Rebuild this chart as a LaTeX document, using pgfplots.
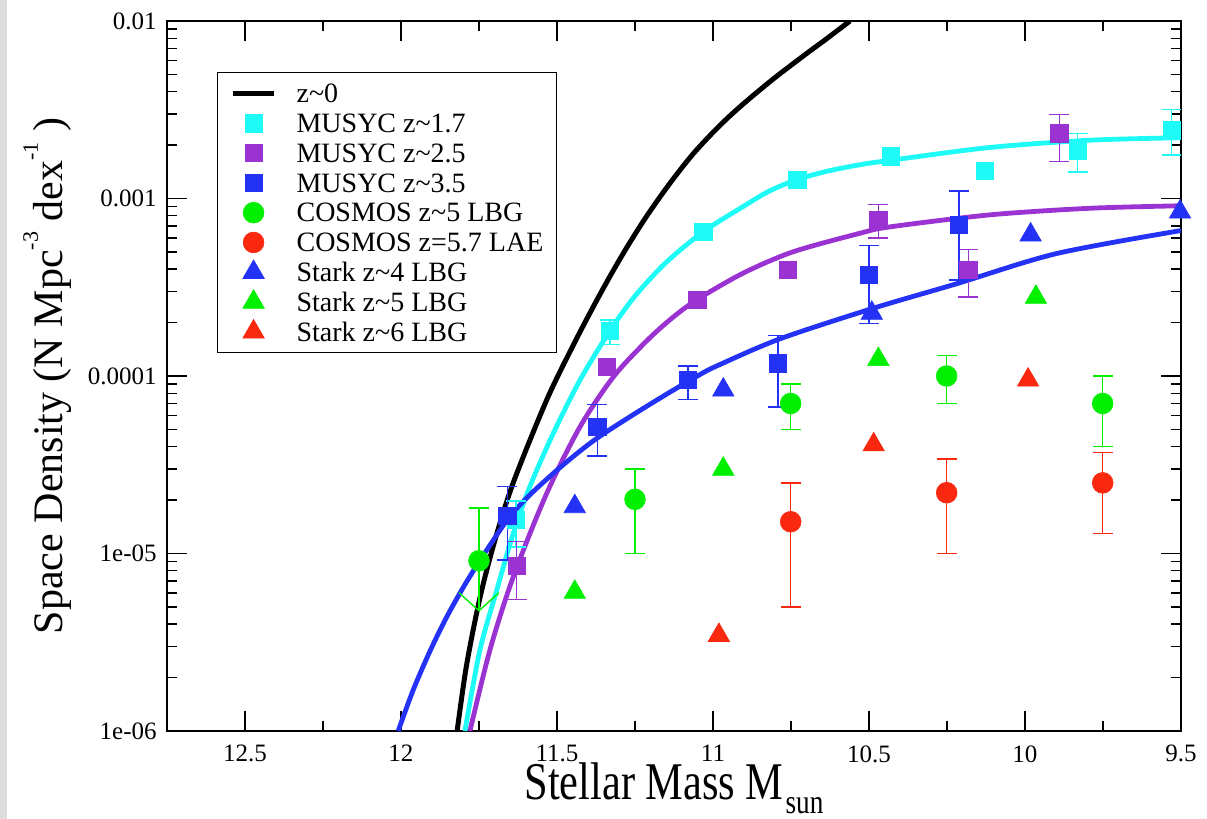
\documentclass[border=0pt]{standalone}
\usepackage{fontspec}
\setmainfont{Liberation Serif}
\usepackage{graphicx}
\usepackage{pgfplots}
\pgfplotsset{compat=1.18}
\usetikzlibrary{arrows.meta}

\definecolor{ccyan}{RGB}{30,250,245}
\definecolor{cviolet}{RGB}{155,50,210}
\definecolor{cblue}{RGB}{36,50,245}
\definecolor{cgreen}{RGB}{0,240,0}
\definecolor{cred}{RGB}{250,40,15}

\pgfplotsset{
  errstyle/.style={
    error bars/.cd, y dir=both, y explicit,
    error bar style={line width=0.7pt, color=#1},
    error mark options={rotate=90, mark size=5pt, line width=0.7pt, color=#1}},
  sq/.style={only marks, mark=square*, mark size=4.3pt, color=#1,
    mark options={solid, fill=#1, draw=#1, line width=0.3pt}},
  ci/.style={only marks, mark=*, mark size=5.2pt, color=#1,
    mark options={solid, fill=#1, draw=#1, line width=0.3pt}},
  tri/.style={only marks, mark=triangle*, mark size=6.2pt, color=#1,
    mark options={solid, fill=#1, draw=#1, line width=0.3pt}},
  fit/.style={no marks, smooth, line width=2.4pt, color=#1},
}

\begin{document}
\begin{tikzpicture}
\fill[black!13] (0pt,0pt) rectangle (3.5pt,409.5pt);
\begin{axis}[
  at={(83.5pt,44pt)}, anchor=south west,
  scale only axis, width=507pt, height=355pt,
  xmin=9.5, xmax=12.75, x dir=reverse,
  ymode=log, ymin=1e-6, ymax=1e-2,
  xtick={9.5,10,10.5,11,11.5,12,12.5},
  xticklabels={9.5,10,10.5,11,11.5,12,12.5},
  minor xtick={9.75,10.25,10.75,11.25,11.75,12.25},
  ytick={1e-6,1e-5,1e-4,1e-3,1e-2},
  yticklabels={1e-06,1e-05,0.0001,0.001,0.01},
  minor ytick={2e-6,3e-6,4e-6,5e-6,6e-6,7e-6,8e-6,9e-6,
               2e-5,3e-5,4e-5,5e-5,6e-5,7e-5,8e-5,9e-5,
               2e-4,3e-4,4e-4,5e-4,6e-4,7e-4,8e-4,9e-4,
               2e-3,3e-3,4e-3,5e-3,6e-3,7e-3,8e-3,9e-3},
  tick align=inside,
  major tick length=10pt, minor tick length=5pt,
  tick style={line width=0.7pt, black},
  axis line style={line width=1pt},
  xticklabel style={font=\rmfamily\fontsize{12.5}{14}\selectfont, inner sep=0pt},
  yticklabel style={font=\rmfamily\fontsize{12.5}{14}\selectfont, inner sep=0pt},
  xticklabel shift=7pt, yticklabel shift=5pt,
  xlabel={\scalebox{0.8}[1]{\rmfamily\fontsize{26.5}{30}\selectfont Stellar Mass M}\kern1pt\raisebox{-7pt}{\scalebox{0.8}[1]{\rmfamily\fontsize{17}{19}\selectfont sun}}},
  xlabel style={at={(axis description cs:0.5,-0.0958)}, anchor=base, inner sep=0pt, font=\rmfamily},
  ylabel={\rmfamily\fontsize{21}{24}\selectfont Space Density (N Mpc\raisebox{12.5pt}{\fontsize{11}{12}\selectfont -3}\ dex\raisebox{12.5pt}{\fontsize{11}{12}\selectfont -1}\ )},
  ylabel style={at={(axis description cs:-0.1026,0.5)}, anchor=base, inner sep=0pt, font=\rmfamily},
  legend cell align=left,
  legend image code/.code={\draw[mark repeat=2,mark phase=2,#1] plot coordinates {(0pt,0pt) (10.25pt,0pt) (20.5pt,0pt)};},
  legend style={at={(axis description cs:0.0493,0.9282)}, anchor=north west,
    draw=black, line width=0.6pt, fill=white,
    inner xsep=6.5pt, inner ysep=3pt, row sep=0pt,
    font=\rmfamily\fontsize{14}{16}\selectfont,
    nodes={inner sep=0pt, text height=12.1pt, text depth=2.8pt},
    /tikz/every odd column/.append style={column sep=10pt}},
]

% z~0
\addplot[no marks, smooth, line width=2.5pt, black] coordinates {
(11.820,1.0e-6) (11.790,2.34e-6) (11.747,5.62e-6) (11.700,1.17e-5) (11.640,2.51e-5)
(11.533,7.33e-5) (11.448,1.49e-4) (11.384,2.45e-4) (11.330,3.65e-4) (11.277,5.27e-4)
(11.223,7.46e-4) (11.170,1.02e-3) (11.116,1.37e-3) (11.063,1.79e-3) (11.010,2.26e-3)
(10.956,2.81e-3) (10.903,3.41e-3) (10.849,4.10e-3) (10.796,4.88e-3) (10.743,5.75e-3)
(10.690,6.76e-3) (10.636,7.94e-3) (10.561,1.0e-2)};
\addlegendentry{z\textasciitilde 0}

% fits
\addplot[forget plot, fit=ccyan] coordinates {
(11.795,1.0e-6) (11.747,2.86e-6) (11.693,6.22e-6) (11.640,1.30e-5) (11.587,2.38e-5)
(11.512,4.75e-5) (11.426,9.5e-5) (11.330,1.80e-4) (11.250,2.82e-4) (11.150,4.37e-4)
(11.031,6.50e-4) (10.903,9.02e-4) (10.820,1.10e-3) (10.730,1.28e-3) (10.630,1.43e-3)
(10.529,1.55e-3) (10.433,1.64e-3) (10.112,1.94e-3) (9.792,2.13e-3) (9.500,2.20e-3)};
\addplot[forget plot, fit=cviolet] coordinates {
(11.779,1.0e-6) (11.715,2.86e-6) (11.640,7.40e-6) (11.533,2.18e-5) (11.426,5.18e-5)
(11.319,9.9e-5) (11.212,1.58e-4) (11.130,2.13e-4) (11.050,2.70e-4) (10.903,3.80e-4)
(10.743,5.01e-4) (10.529,6.37e-4) (10.433,6.92e-4) (10.112,8.09e-4) (9.792,8.81e-4)
(9.500,9.10e-4)};
\addplot[forget plot, fit=cblue] coordinates {
(12.009,1.0e-6) (11.961,1.70e-6) (11.907,2.82e-6) (11.854,4.37e-6) (11.800,6.46e-6)
(11.747,9.12e-6) (11.659,1.55e-5) (11.587,2.14e-5) (11.480,3.16e-5) (11.371,4.47e-5)
(11.212,6.76e-5) (11.050,1.0e-4) (10.978,1.16e-4) (10.785,1.62e-4) (10.489,2.40e-4)
(10.219,3.31e-4) (9.898,4.90e-4) (9.500,6.60e-4)};

% MUSYC z~1.7
\addplot[sq=ccyan, errstyle=ccyan] table[x=x,y=y,y error plus=ep,y error minus=em] {
x y ep em
11.631 1.55e-5 0.43e-5 0.46e-5
11.330 1.80e-4 0.27e-4 0.29e-4
9.831 1.87e-3 0.45e-3 0.46e-3
9.530 2.43e-3 0.75e-3 0.67e-3
};
\addlegendentry{MUSYC z\textasciitilde 1.7}
\addplot[forget plot, sq=ccyan] coordinates {
(11.031,6.5e-4) (10.730,1.28e-3) (10.430,1.73e-3) (10.130,1.43e-3)};

% MUSYC z~2.5
\addplot[sq=cviolet, errstyle=cviolet] table[x=x,y=y,y error plus=ep,y error minus=em] {
x y ep em
11.629 8.5e-6 3.2e-6 3.0e-6
10.470 7.57e-4 1.70e-4 1.57e-4
10.182 3.95e-4 1.23e-4 1.16e-4
9.890 2.33e-3 0.65e-3 0.72e-3
};
\addlegendentry{MUSYC z\textasciitilde 2.5}
\addplot[forget plot, sq=cviolet] coordinates {
(11.341,1.13e-4) (11.050,2.68e-4) (10.761,3.95e-4)};

% MUSYC z~3.5
\addplot[sq=cblue, errstyle=cblue] table[x=x,y=y,y error plus=ep,y error minus=em] {
x y ep em
11.659 1.63e-5 0.75e-5 0.71e-5
11.371 5.18e-5 1.75e-5 1.64e-5
11.080 9.5e-5 1.9e-5 2.1e-5
10.791 1.18e-4 0.51e-4 0.51e-4
10.500 3.71e-4 1.71e-4 1.73e-4
10.211 7.1e-4 3.9e-4 3.63e-4
};
\addlegendentry{MUSYC z\textasciitilde 3.5}

% COSMOS z~5 LBG
\addplot[forget plot, only marks, mark=none,
  error bars/.cd, y dir=minus, y explicit, error mark=none,
  error bar style={line width=0.7pt, color=cgreen, -{Straight Barb[length=9pt,width=20pt]}}]
  table[x=x,y=y,y error minus=em] {
x y em
11.75 9.1e-6 4.4e-6
};
\addplot[ci=cgreen, error bars/.cd, y dir=plus, y explicit,
    error bar style={line width=0.7pt, color=cgreen},
    error mark options={rotate=90, mark size=5pt, line width=0.7pt, color=cgreen}]
  table[x=x,y=y,y error plus=ep] {
x y ep
11.75 9.1e-6 8.9e-6
};
\addlegendentry{COSMOS z\textasciitilde 5 LBG}
\addplot[forget plot, ci=cgreen, errstyle=cgreen] table[x=x,y=y,y error plus=ep,y error minus=em] {
x y ep em
11.25 2.02e-5 0.97e-5 1.02e-5
10.751 7.0e-5 2.0e-5 2.0e-5
10.251 1.0e-4 0.3e-4 0.3e-4
9.751 7.0e-5 3.0e-5 3.0e-5
};

% COSMOS z=5.7 LAE
\addplot[ci=cred, errstyle=cred] table[x=x,y=y,y error plus=ep,y error minus=em] {
x y ep em
10.751 1.51e-5 0.99e-5 1.01e-5
10.251 2.2e-5 1.2e-5 1.2e-5
9.751 2.5e-5 1.2e-5 1.2e-5
};
\addlegendentry{COSMOS z=5.7 LAE}

% Stark
\addplot[tri=cblue] coordinates {
(11.443,1.84e-5) (10.967,8.35e-5) (10.491,2.26e-4) (9.982,6.24e-4) (9.503,8.4e-4)};
\addlegendentry{Stark z\textasciitilde 4 LBG}
\addplot[tri=cgreen] coordinates {
(11.443,6.05e-6) (10.967,2.99e-5) (10.470,1.24e-4) (9.965,2.78e-4)};
\addlegendentry{Stark z\textasciitilde 5 LBG}
\addplot[tri=cred] coordinates {
(10.981,3.46e-6) (10.485,4.1e-5) (9.990,9.5e-5)};
\addlegendentry{Stark z\textasciitilde 6 LBG}

\end{axis}
\pgfresetboundingbox
\path[use as bounding box] (0pt,0pt) rectangle (603.5pt,409.5pt);
\end{tikzpicture}
\end{document}
